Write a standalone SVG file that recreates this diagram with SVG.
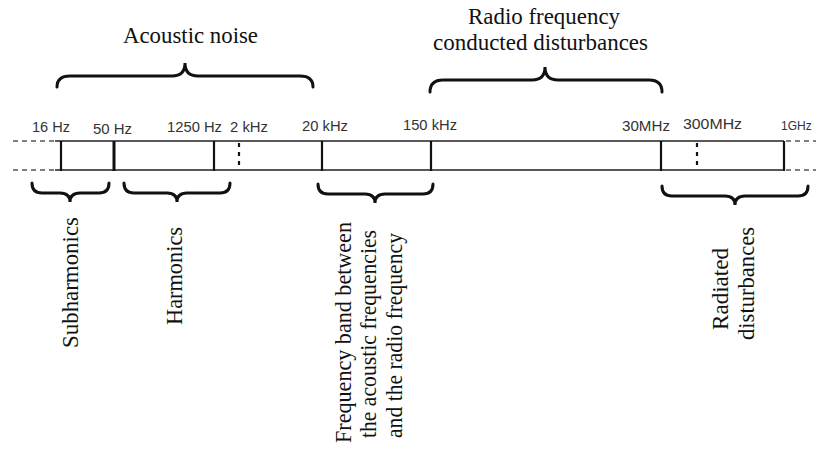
<svg xmlns="http://www.w3.org/2000/svg" width="816" height="455" viewBox="0 0 816 455">
<style>
.ax{stroke:#222;stroke-width:1.5;fill:none}
.dash{stroke:#555;stroke-width:1.3;stroke-dasharray:5 4;fill:none}
.tick{stroke:#111;stroke-width:2.2;fill:none}
.thick{stroke:#111;stroke-width:3;fill:none}
.dot{stroke:#111;stroke-width:2.2;stroke-dasharray:4 5;fill:none}
.brace{stroke:#111;stroke-width:3;fill:none;stroke-linecap:round}
.lab{font-family:"Liberation Sans",Arial,sans-serif;font-size:14px;fill:#333}
.ser{font-family:"Liberation Serif","Times New Roman",serif;font-size:23px;fill:#111}
</style>
<rect width="816" height="455" fill="#fff"/>
<g id="axis">
<line class="dash" x1="13" y1="141" x2="55" y2="141"/>
<line class="dash" x1="13" y1="170" x2="55" y2="170"/>
<line class="ax" x1="55" y1="141" x2="784" y2="141"/>
<line class="ax" x1="55" y1="170" x2="784" y2="170"/>
<line class="dash" x1="786" y1="141" x2="816" y2="141"/>
<line class="dash" x1="786" y1="170" x2="816" y2="170"/>
</g>
<g id="ticks">
<line class="tick" x1="61" y1="141" x2="61" y2="171"/>
<line class="thick" x1="114" y1="141" x2="114" y2="171"/>
<line class="tick" x1="214" y1="141" x2="214" y2="171"/>
<line class="dot" x1="239" y1="143" x2="239" y2="170"/>
<line class="tick" x1="322" y1="141" x2="322" y2="171"/>
<line class="tick" x1="431" y1="141" x2="431" y2="171"/>
<line class="tick" x1="661" y1="141" x2="661" y2="171"/>
<line class="dot" x1="697" y1="143" x2="697" y2="170"/>
<line class="tick" x1="784" y1="141" x2="784" y2="171"/>
</g>
<g id="tick-labels">
<text class="lab" x="32" y="132" textLength="38" lengthAdjust="spacingAndGlyphs">16 Hz</text>
<text class="lab" x="93" y="134" textLength="39" lengthAdjust="spacingAndGlyphs">50 Hz</text>
<text class="lab" x="167" y="132" textLength="55" lengthAdjust="spacingAndGlyphs">1250 Hz</text>
<text class="lab" x="230" y="132" textLength="38" lengthAdjust="spacingAndGlyphs">2 kHz</text>
<text class="lab" x="302" y="131" textLength="46" lengthAdjust="spacingAndGlyphs">20 kHz</text>
<text class="lab" x="403" y="130" textLength="54" lengthAdjust="spacingAndGlyphs">150 kHz</text>
<text class="lab" x="622" y="131" textLength="48" lengthAdjust="spacingAndGlyphs">30MHz</text>
<text class="lab" x="683" y="129" textLength="59" lengthAdjust="spacingAndGlyphs">300MHz</text>
<text class="lab" x="781" y="130" style="font-size:12px">1GHz</text>
</g>
<g id="acoustic-noise">
<path class="brace" d="M57,87 Q57,76 70,76 L172,76 Q185,76 185,63 Q185,76 198,76 L300,76 Q313,76 313,87"/>
<text class="ser" x="190.5" y="43" text-anchor="middle" textLength="135" lengthAdjust="spacingAndGlyphs">Acoustic noise</text>
</g>
<g id="radio-frequency">
<path class="brace" d="M430,92 Q430,80 443,80 L532,80 Q545,80 545,67 Q545,80 558,80 L649,80 Q662,80 662,92"/>
<text class="ser" x="544" y="24" text-anchor="middle" textLength="152" lengthAdjust="spacingAndGlyphs">Radio frequency</text>
<text class="ser" x="540.5" y="50" text-anchor="middle" textLength="215" lengthAdjust="spacingAndGlyphs">conducted disturbances</text>
</g>
<g id="subharmonics">
<path class="brace" d="M32,183 Q32,193 42,193 L60,193 Q70,193 70,202 Q70,193 80,193 L99,193 Q109,193 109,183"/>
<text class="ser" transform="translate(78,282.5) rotate(-90)" text-anchor="middle" textLength="131" lengthAdjust="spacingAndGlyphs">Subharmonics</text>
</g>
<g id="harmonics">
<path class="brace" d="M124,183 Q124,193 134,193 L167,193 Q177,193 177,202 Q177,193 187,193 L220,193 Q230,193 230,183"/>
<text class="ser" transform="translate(182,276) rotate(-90)" text-anchor="middle" textLength="98" lengthAdjust="spacingAndGlyphs">Harmonics</text>
</g>
<g id="frequency-band">
<path class="brace" d="M318,184 Q318,194 328,194 L365,194 Q375,194 375,203 Q375,194 385,194 L423,194 Q433,194 433,184"/>
<text class="ser" transform="translate(351,332.5) rotate(-90)" text-anchor="middle" textLength="221" lengthAdjust="spacingAndGlyphs">Frequency band between</text>
<text class="ser" transform="translate(376,334) rotate(-90)" text-anchor="middle" textLength="208" lengthAdjust="spacingAndGlyphs">the acoustic frequencies</text>
<text class="ser" transform="translate(402,335.5) rotate(-90)" text-anchor="middle" textLength="205" lengthAdjust="spacingAndGlyphs">and the radio frequency</text>
</g>
<g id="radiated">
<path class="brace" d="M662,186 Q662,196 672,196 L725,196 Q735,196 735,205 Q735,196 745,196 L798,196 Q808,196 808,186"/>
<text class="ser" transform="translate(728,289) rotate(-90)" text-anchor="middle" textLength="82" lengthAdjust="spacingAndGlyphs">Radiated</text>
<text class="ser" transform="translate(754,283.5) rotate(-90)" text-anchor="middle" textLength="113" lengthAdjust="spacingAndGlyphs">disturbances</text>
</g>
</svg>
